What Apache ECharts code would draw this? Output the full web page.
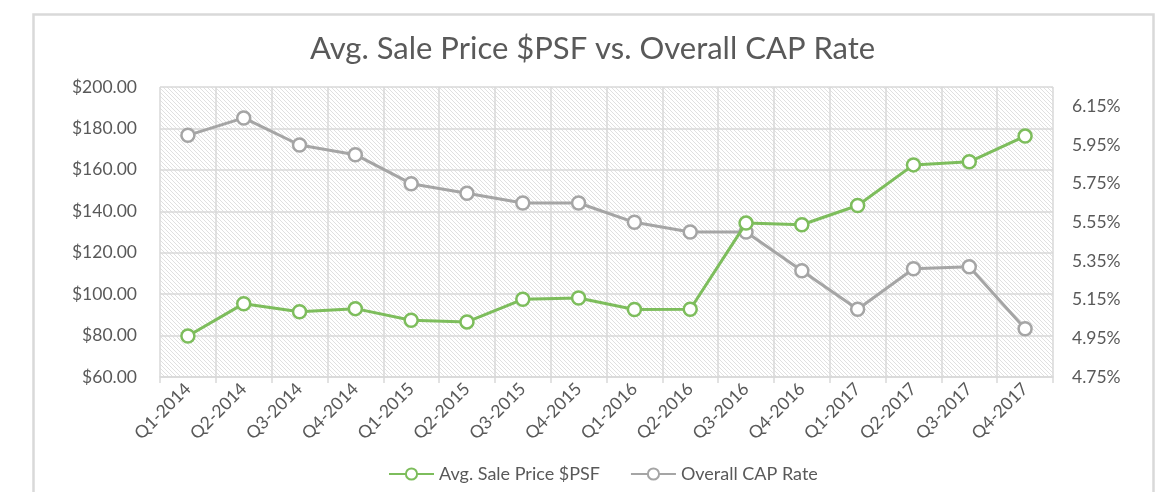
<!DOCTYPE html>
<html>
<head>
<meta charset="utf-8">
<title>Avg. Sale Price $PSF vs. Overall CAP Rate</title>
<script src="https://cdn.jsdelivr.net/npm/echarts@6/dist/echarts.min.js"></script>
<style>
  html, body { margin: 0; padding: 0; background: #fff; }
  #chart { width: 1164px; height: 492px; }
</style>
</head>
<body>
<div id="chart"></div>
<script>
const quarters = ['Q1-2014', 'Q2-2014', 'Q3-2014', 'Q4-2014', 'Q1-2015', 'Q2-2015', 'Q3-2015', 'Q4-2015',
  'Q1-2016', 'Q2-2016', 'Q3-2016', 'Q4-2016', 'Q1-2017', 'Q2-2017', 'Q3-2017', 'Q4-2017'];
const salePrice = [79.8, 95.4, 91.5, 93.0, 87.4, 86.6, 97.5, 98.1, 92.6, 92.7, 134.3, 133.5, 142.8, 162.4, 163.9, 176.3];
const capRate = [6.00, 6.09, 5.95, 5.90, 5.75, 5.70, 5.65, 5.65, 5.55, 5.50, 5.50, 5.30, 5.10, 5.31, 5.32, 5.00];

// axis ranges (tick labels)
const priceAxis = { min: 60, max: 200, step: 20 };
const rateAxis = { min: 4.75, max: 6.25, step: 0.2 };

const GREEN = '#7dbd5c';
const GRAY = '#a5a5a5';
const TEXT = '#595959';
const LINE = '#d9d9d9';
const FONT = 'Lato, "Open Sans", sans-serif';

// diagonal hatch for the plot area
function hatch() {
  const s = 4;
  const c = document.createElement('canvas');
  c.width = s; c.height = s;
  const ctx = c.getContext('2d');
  ctx.fillStyle = '#ffffff';
  ctx.fillRect(0, 0, s, s);
  ctx.strokeStyle = '#dcdcdc';
  ctx.lineWidth = 0.9;
  [-s, 0, s].forEach(function (o) {
    ctx.beginPath();
    ctx.moveTo(o, 0);
    ctx.lineTo(o + s, s);
    ctx.stroke();
  });
  return c;
}

const chart = echarts.init(document.getElementById('chart'));

const option = {
  animation: false,
  backgroundColor: '#fff',
  textStyle: { fontFamily: FONT },
  title: {
    text: 'Avg. Sale Price $PSF vs. Overall CAP Rate',
    left: 305,
    top: 28,
    textStyle: { fontFamily: FONT, fontSize: 31, fontWeight: 'normal', color: TEXT }
  },
  graphic: [{
    type: 'rect',
    left: 31, top: 12,
    shape: { width: 1120, height: 520 },
    style: { fill: 'none', stroke: LINE, lineWidth: 2.5 },
    silent: true
  }],
  grid: {
    left: 160, right: 111, top: 87, bottom: 115,
    show: true,
    backgroundColor: { image: hatch(), repeat: 'repeat' },
    borderWidth: 0
  },
  legend: {
    bottom: 4,
    left: 383,
    itemWidth: 45,
    itemHeight: 14,
    itemGap: 30,
    textStyle: { fontFamily: FONT, fontSize: 18, color: TEXT },
    data: ['Avg. Sale Price $PSF', 'Overall CAP Rate']
  },
  xAxis: {
    type: 'category',
    data: quarters,
    boundaryGap: true,
    axisLine: { lineStyle: { color: LINE, width: 1.5 } },
    axisTick: { show: true, length: 6, lineStyle: { color: LINE, width: 1.5 } },
    splitLine: { show: true, lineStyle: { color: LINE, width: 1.5 } },
    axisLabel: { rotate: 45, margin: 9, fontSize: 17.5, color: TEXT, fontFamily: FONT, interval: 0 }
  },
  yAxis: [{
    type: 'value',
    position: 'left',
    min: priceAxis.min,
    max: priceAxis.max,
    interval: priceAxis.step,
    axisLine: { show: false },
    axisTick: { show: false },
    splitLine: { show: true, lineStyle: { color: LINE, width: 1.5 } },
    axisLabel: {
      margin: 23, fontSize: 17.5, color: TEXT, fontFamily: FONT,
      formatter: function (v) { return '$' + v.toFixed(2); }
    }
  }, {
    type: 'value',
    position: 'right',
    min: rateAxis.min,
    max: rateAxis.max,
    interval: 0.05,
    axisLine: { show: false },
    axisTick: { show: false },
    splitLine: { show: false },
    axisLabel: {
      margin: 19, fontSize: 17.5, color: TEXT, fontFamily: FONT,
      formatter: function (v) {
        const k = (v - rateAxis.min) / rateAxis.step;
        if (Math.abs(k - Math.round(k)) > 1e-6 || v > 6.2) return '';
        return v.toFixed(2) + '%';
      }
    }
  }],
  series: [{
    name: 'Avg. Sale Price $PSF',
    type: 'line',
    yAxisIndex: 0,
    data: salePrice,
    symbol: 'circle',
    symbolSize: 13,
    lineStyle: { color: GREEN, width: 3 },
    itemStyle: { color: '#fff', borderColor: GREEN, borderWidth: 2.5 },
    z: 3
  }, {
    name: 'Overall CAP Rate',
    type: 'line',
    yAxisIndex: 1,
    data: capRate,
    symbol: 'circle',
    symbolSize: 13,
    lineStyle: { color: GRAY, width: 3 },
    itemStyle: { color: '#fff', borderColor: GRAY, borderWidth: 2.5 },
    z: 2
  }]
};

chart.setOption(option);
window.addEventListener('resize', function () { chart.resize(); });
</script>
</body>
</html>
